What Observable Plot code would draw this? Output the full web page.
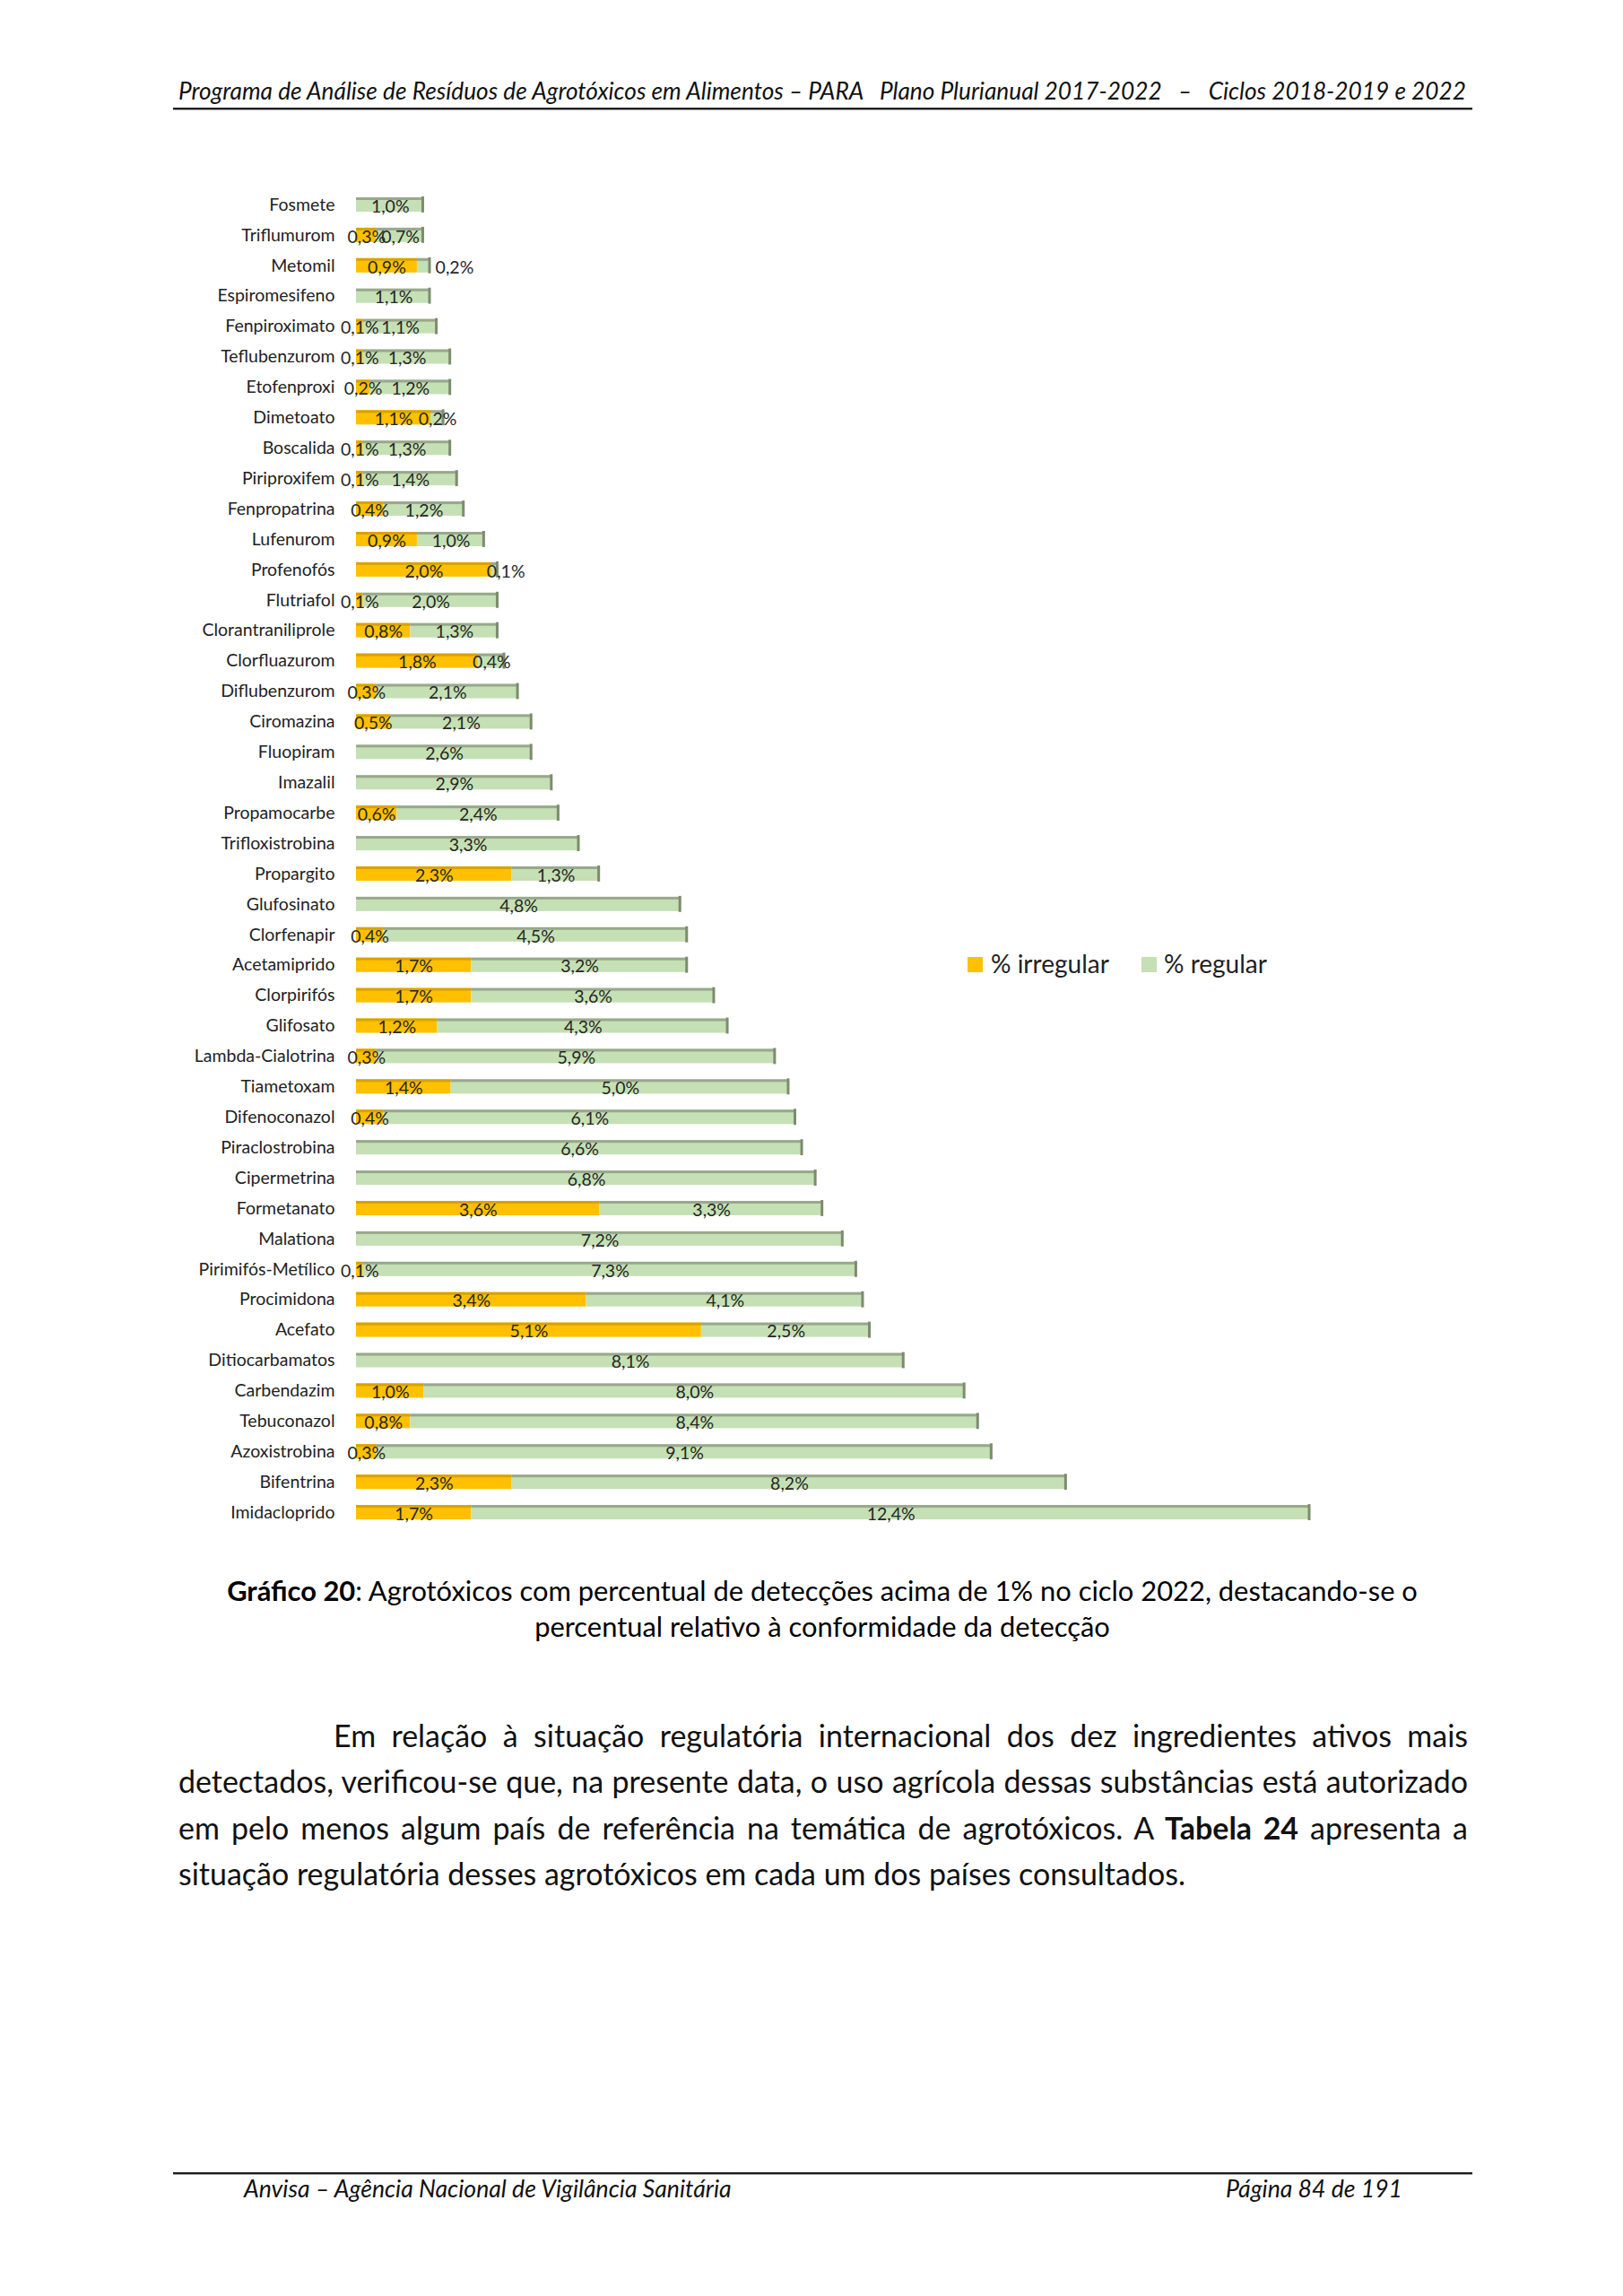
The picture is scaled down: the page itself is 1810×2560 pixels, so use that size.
<!DOCTYPE html>
<html><head><meta charset="utf-8">
<script src="https://cdn.jsdelivr.net/npm/d3@7"></script>
<script src="https://cdn.jsdelivr.net/npm/@observablehq/plot@0.6"></script>
<style>
html,body{margin:0;padding:0;background:#fff;}
#page{position:relative;width:1810px;height:2560px;background:#fff;font-family:Lato,"Open Sans",sans-serif;color:#000;overflow:hidden;}
.abs{position:absolute;white-space:pre;}
</style></head><body><div id="page"></div>
<script>
// ---------------- DATA ----------------
const categories = ["Fosmete","Triflumurom","Metomil","Espiromesifeno","Fenpiroximato","Teflubenzurom","Etofenproxi","Dimetoato","Boscalida","Piriproxifem","Fenpropatrina","Lufenurom","Profenofós","Flutriafol","Clorantraniliprole","Clorfluazurom","Diflubenzurom","Ciromazina","Fluopiram","Imazalil","Propamocarbe","Trifloxistrobina","Propargito","Glufosinato","Clorfenapir","Acetamiprido","Clorpirifós","Glifosato","Lambda-Cialotrina","Tiametoxam","Difenoconazol","Piraclostrobina","Cipermetrina","Formetanato","Malationa","Pirimifós-Metílico","Procimidona","Acefato","Ditiocarbamatos","Carbendazim","Tebuconazol","Azoxistrobina","Bifentrina","Imidacloprido"];
const irregular = [0,0.3,0.9,0,0.1,0.1,0.2,1.1,0.1,0.1,0.4,0.9,2.0,0.1,0.8,1.8,0.3,0.5,0,0,0.6,0,2.3,0,0.4,1.7,1.7,1.2,0.3,1.4,0.4,0,0,3.6,0,0.1,3.4,5.1,0,1.0,0.8,0.3,2.3,1.7];
const regular = [1.0,0.7,0.2,1.1,1.1,1.3,1.2,0.2,1.3,1.4,1.2,1.0,0.1,2.0,1.3,0.4,2.1,2.1,2.6,2.9,2.4,3.3,1.3,4.8,4.5,3.2,3.6,4.3,5.9,5.0,6.1,6.6,6.8,3.3,7.2,7.3,4.1,2.5,8.1,8.0,8.4,9.1,8.2,12.4];
const seriesNames = ["% irregular","% regular"];

const headerText = "Programa de Análise de Resíduos de Agrotóxicos em Alimentos – PARA   Plano Plurianual 2017-2022   –   Ciclos 2018-2019 e 2022";
const captionLines = ["<b>Gráfico 20</b>: Agrotóxicos com percentual de detecções acima de 1% no ciclo 2022, destacando-se o","percentual relativo à conformidade da detecção"];
const bodyLines = ["Em relação à situação regulatória internacional dos dez ingredientes ativos mais","detectados, verificou-se que, na presente data, o uso agrícola dessas substâncias está autorizado","em pelo menos algum país de referência na temática de agrotóxicos. A <b>Tabela 24</b> apresenta a","situação regulatória desses agrotóxicos em cada um dos países consultados."];
const footerLeft = "Anvisa – Agência Nacional de Vigilância Sanitária";
const footerRight = "Página 84 de 191";

// ---------------- STYLE ----------------
const colIrr = "#ffc000", colReg = "#c5e0b4";
const colIrrTop = "#d9a200", colRegTop = "#98a88c", colEdge = "#7c8c6e";
const labelNudge = {"Metomil": 34, "Profenofós": 12};

const page = document.getElementById("page");
function measure(html, css){
  const s=document.createElement("span");
  s.style.cssText="position:absolute;visibility:hidden;white-space:pre;"+css;
  s.innerHTML=html; page.appendChild(s);
  const w=s.getBoundingClientRect().width; s.remove(); return w;
}
function fit(html, css, target){ return 40*target/measure(html, css+"font-size:40px;"); }
function addText(html, css, left, cy, size, extra=""){
  const d=document.createElement("div");
  d.className="abs";
  d.style.cssText=`left:${left}px;top:${cy-size*0.55}px;font-size:${size}px;line-height:${size}px;`+css+extra;
  d.innerHTML=html; page.appendChild(d); return d;
}
function rule(y){
  const a=document.createElement("div"); a.style.cssText=`position:absolute;left:193px;width:1449px;top:${y}px;height:2px;background:#1f1f1f;`; page.appendChild(a);
  const b=document.createElement("div"); b.style.cssText=`position:absolute;left:193px;width:1449px;top:${y+2}px;height:1px;background:#a0a0a0;`; page.appendChild(b);
}

// header
const itCss="font-style:italic;color:#111;";
const hs=fit(headerText,itCss,1437);
addText(headerText,itCss,199,102,hs);
rule(120);

// chart
const rows = categories.map((name,i)=>({name, irr:irregular[i], reg:regular[i]}));
const segs = rows.flatMap(r=>[
  {name:r.name, series:seriesNames[0], value:r.irr, x1:0, x2:r.irr},
  {name:r.name, series:seriesNames[1], value:r.reg, x1:r.irr, x2:r.irr+r.reg}
]).filter(d=>d.value>0);
const fmt = v => v.toFixed(1).replace(".",",")+"%";
const step = 1492/44;
const W=1500, H=1520, FS=19.5;
const plot = Plot.plot({
  width:W, height:H,
  marginLeft:397, marginRight:39, marginTop:11, marginBottom:17,
  style:{fontFamily:"Lato, sans-serif", fontSize:FS+"px", color:"#222", background:"transparent"},
  x:{domain:[0,14.1], axis:null},
  y:{domain:categories, padding:0, tickSize:0, tickPadding:24, label:null},
  color:{domain:seriesNames, range:[colIrr,colReg]},
  marks:[
    Plot.barX(segs,{x1:"x1",x2:"x2",y:"name",fill:"series",insetTop:9,insetBottom:step-25}),
    Plot.barX(segs.filter(d=>d.series===seriesNames[0]),{x1:"x1",x2:"x2",y:"name",fill:colIrrTop,insetTop:9,insetBottom:step-12}),
    Plot.barX(segs.filter(d=>d.series===seriesNames[1]),{x1:"x1",x2:"x2",y:"name",fill:colRegTop,insetTop:9,insetBottom:step-12}),
    Plot.tickX(rows,{x:d=>d.irr+d.reg,y:"name",stroke:colEdge,strokeWidth:3,dx:-1.5,insetTop:8,insetBottom:8}),
    Plot.text(segs.filter(d=>!(d.series===seriesNames[1] && labelNudge[d.name])),{x:d=>(d.x1+d.x2)/2,y:"name",text:d=>fmt(d.value),fill:"#262626",fontSize:FS,dy:2}),
    ...Object.entries(labelNudge).map(([n,dx])=>Plot.text(segs.filter(d=>d.series===seriesNames[1]&&d.name===n),{x:d=>(d.x1+d.x2)/2,y:"name",text:d=>fmt(d.value),fill:"#262626",fontSize:FS,dy:2,dx}))
  ]
});
const wrap=document.createElement("div");
wrap.style.cssText="position:absolute;left:0;top:200px;";
wrap.appendChild(plot); page.appendChild(wrap);

// legend
const lgCss="color:#222;";
const ls=fit("% irregular",lgCss,132);
[[seriesNames[0],colIrr,1079,1105],[seriesNames[1],colReg,1273,1298]].forEach(([t,c,sx,tx])=>{
  const sq=document.createElement("div");
  sq.style.cssText=`position:absolute;left:${sx}px;top:1067px;width:17px;height:17px;background:${c};`;
  page.appendChild(sq);
  addText(t,lgCss,tx,1075,ls);
});

// caption
const cs=fit(captionLines[0],"",1328);
[1776,1816].forEach((cy,i)=>{
  addText(captionLines[i],"",117,cy,cs,"width:1600px;text-align:center;");
});

// body
const bs=Math.min(fit(bodyLines[3],"",1125), fit(bodyLines[1],"",1430));
const bodyY=[1937,1988,2040,2091];
bodyLines.forEach((t,i)=>{
  const left = i===0?372:199, width=1637-left;
  const just = i<3 ? "text-align:justify;text-align-last:justify;white-space:normal;" : "";
  addText(t,"color:#111;",left,bodyY[i],bs,`width:${width}px;`+just);
});

// footer
rule(2422);
const fs=fit(footerLeft,itCss,544);
addText(footerLeft,itCss,272,2442,fs);
addText(footerRight,itCss,0,2442,fs,"width:1564px;text-align:right;");
</script></body></html>
